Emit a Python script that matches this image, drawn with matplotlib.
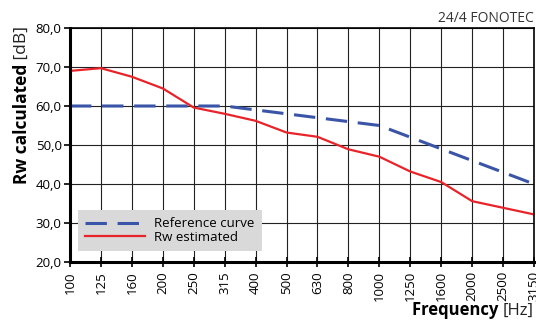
import matplotlib.pyplot as plt
import numpy as np

plt.rcParams['font.family'] = ['Open Sans', 'DejaVu Sans']

freqs = ['100', '125', '160', '200', '250', '315', '400', '500', '630', '800',
         '1000', '1250', '1600', '2000', '2500', '3150']
reference_curve = [60, 60, 60, 60, 60, 60, 59, 58, 57, 56, 55, 52, 49, 46, 43, 40]
rw_estimated = [69.0, 69.7, 67.5, 64.5, 59.6, 58.0, 56.2, 53.2, 52.1, 48.9,
                47.0, 43.2, 40.5, 35.6, 33.9, 32.2]
yticks = [20, 30, 40, 50, 60, 70, 80]

fig = plt.figure(figsize=(5.36, 3.2), dpi=100)
ax = fig.add_axes([70 / 536, 58 / 320, 464 / 536, 234 / 320])

x = np.arange(len(freqs))
ax.plot(x, reference_curve, color='#3a55a8', lw=2.2, dashes=(7, 3.5),
        label='Reference curve')
ax.plot(x, rw_estimated, color='#e8242a', lw=1.6, label='Rw estimated')

ax.set_xlim(0, len(freqs) - 1)
ax.set_ylim(20, 80)
ax.set_xticks(x)
ax.set_xticklabels(freqs, rotation=90, fontsize=9.5)
ax.set_yticks(yticks)
ax.set_yticklabels([f'{v:.1f}'.replace('.', ',') for v in yticks], fontsize=9.5)
ax.tick_params(axis='y', direction='out', length=4, width=1.2, pad=2)
ax.tick_params(axis='x', direction='inout', length=7, width=1.2, pad=3)

ax.grid(True, color='#222222', lw=0.8)
ax.set_axisbelow(True)
for side in ['left', 'bottom']:
    ax.spines[side].set_linewidth(2.2)
for side in ['top', 'right']:
    ax.spines[side].set_linewidth(1.2)

leg = ax.legend(loc='lower left', bbox_to_anchor=(0.012, 0.035), fontsize=9.5,
                frameon=True, fancybox=False, handlelength=4.5,
                borderpad=0.55, labelspacing=0.05, handletextpad=0.7,
                borderaxespad=0.2)
leg.get_frame().set_facecolor('#d9d9d9')
leg.get_frame().set_edgecolor('none')
leg.get_frame().set_alpha(1)

fig.text(534 / 536, 1 - 26 / 320, '24/4 FONOTEC', ha='right', va='bottom',
         fontsize=10, color='#333333')

# y label: bold part + normal part
t1 = fig.text(22 / 536, 1 - 184 / 320, 'Rw calculated', rotation=90,
              ha='center', va='bottom', fontsize=12.5, fontweight='bold')
fig.canvas.draw()
ax.annotate(' [dB]', xy=(0.5, 1), xycoords=t1, rotation=90, ha='center',
            va='bottom', fontsize=12.5, color='#222222')

# x label: bold part + normal part
t2 = fig.text(534 / 536, 1 - 319 / 320, '[Hz]', ha='right', va='bottom',
              fontsize=12, color='#222222')
ax.annotate('Frequency ', xy=(0, 0), xycoords=t2, ha='right', va='bottom',
            fontsize=12, fontweight='bold')

fig.savefig('out.png', dpi=100)
